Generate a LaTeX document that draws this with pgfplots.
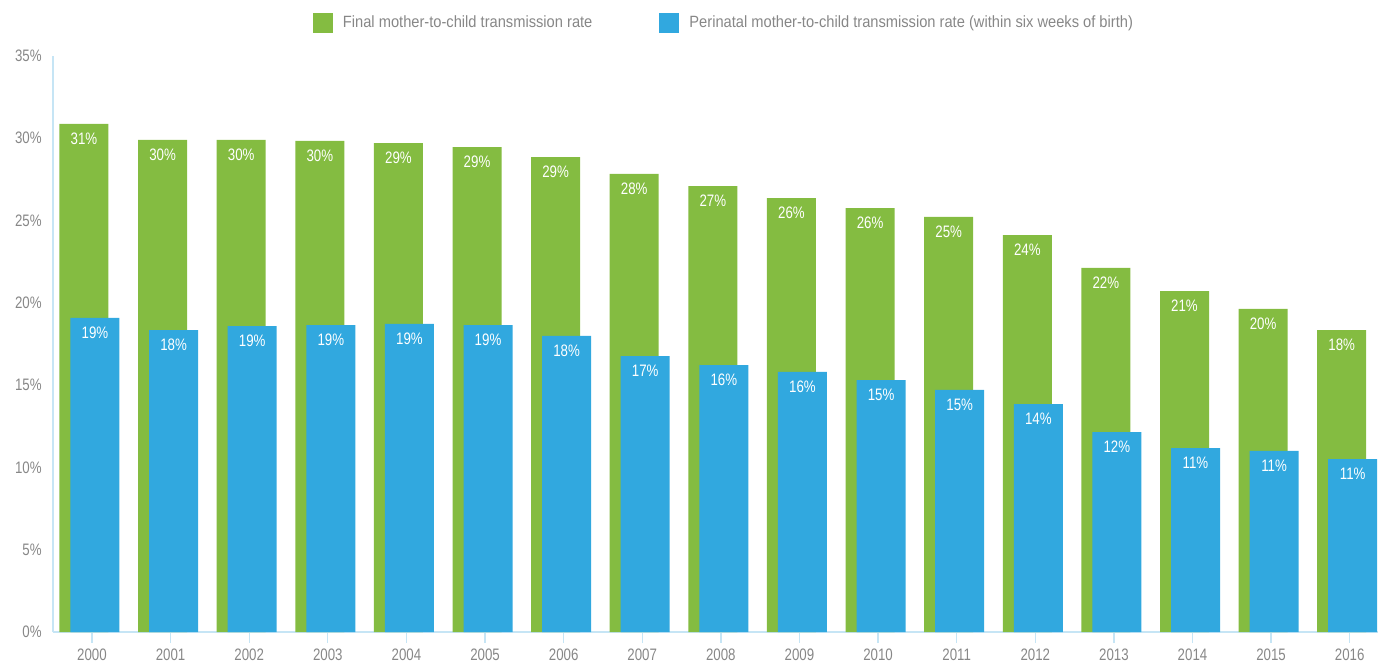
\documentclass[border=0pt]{standalone}
\usepackage{pgfplots}
\pgfplotsset{compat=1.18}
\usepackage{pgfplotstable}
\usepackage{fontspec}
\setmainfont{Liberation Sans}[FakeStretch=0.9]
\newfontfamily\numfont{Liberation Sans}[FakeStretch=0.8]
\definecolor{gr}{HTML}{84BC41}
\definecolor{bl}{HTML}{31A8DF}
\definecolor{axc}{HTML}{C6E5F5}
\definecolor{txt}{HTML}{878787}

\pgfplotstableread{
x y lab
0 30.87 31
1 29.90 30
2 29.90 30
3 29.84 30
4 29.71 29
5 29.47 29
6 28.86 29
7 27.83 28
8 27.10 27
9 26.37 26
10 25.76 26
11 25.22 25
12 24.12 24
13 22.12 22
14 20.72 21
15 19.63 20
16 18.35 18
}\finaldata

\pgfplotstableread{
x y lab
0 19.08 19
1 18.35 18
2 18.59 19
3 18.65 19
4 18.72 19
5 18.65 19
6 17.99 18
7 16.77 17
8 16.22 16
9 15.80 16
10 15.31 15
11 14.71 15
12 13.85 14
13 12.15 12
14 11.18 11
15 11.00 11
16 10.51 11
}\perinataldata

\begin{document}
\begin{tikzpicture}
\begin{axis}[
  width=662.5pt, height=288pt, scale only axis,
  xmin=-0.496, xmax=16.36, ymin=0, ymax=35,
  axis lines=left,
  axis line style={-, draw=axc, line width=1pt},
  xtick={0,...,16},
  xticklabels={2000,2001,2002,2003,2004,2005,2006,2007,2008,2009,2010,2011,2012,2013,2014,2015,2016},
  ytick={0,5,...,35},
  yticklabel={\pgfmathprintnumber{\tick}\%},
  /pgf/number format/assume math mode=true,
  tick label style={font=\numfont\fontsize{8.3pt}{9pt}\selectfont, text=txt},
  ytick style={draw=none},
  xtick style={draw=axc, line width=0.65pt},
  tick align=outside, major tick length=5.5pt,
  xticklabel style={anchor=north, inner sep=0pt, yshift=-3pt},
  yticklabel style={anchor=east, inner sep=0pt, xshift=0pt},
  legend columns=2,
  legend style={draw=none, fill=none, inner sep=0pt, outer sep=0pt,
    at={(0.1962,1.0573)}, anchor=west,
    font=\fontsize{8.15pt}{9.8pt}\selectfont, text=txt,
    nodes={inner sep=0pt},
    /tikz/every odd column/.append style={column sep=5pt},
    /tikz/every even column/.append style={column sep=33.5pt}},
  legend cell align=left,
  point meta=explicit symbolic,
  nodes near coords={\numfont\pgfplotspointmeta\%},
  every node near coord/.append style={anchor=north, inner sep=0pt, yshift=-4.35pt, text=white, font=\fontsize{8.3pt}{9pt}\selectfont},
]
\addplot[ybar, fill=gr, draw=none, bar width=24.5pt, bar shift=-4pt,
  every node near coord/.append style={xshift=-4pt},
  legend image code/.code={\fill[gr] (0pt,-5pt) rectangle (10pt,5pt);}]
  table[x=x, y=y, meta=lab] {\finaldata};
\addlegendentry{Final mother-to-child transmission rate}
\addplot[ybar, fill=bl, draw=none, bar width=24.5pt, bar shift=1.5pt,
  every node near coord/.append style={xshift=1.5pt},
  legend image code/.code={\fill[bl] (0pt,-5pt) rectangle (10pt,5pt);}]
  table[x=x, y=y, meta=lab] {\perinataldata};
\addlegendentry{Perinatal mother-to-child transmission rate (within six weeks of birth)}
\coordinate (SW) at (rel axis cs:0,0);
\coordinate (NE) at (rel axis cs:1,1);
\end{axis}
\pgfresetboundingbox
\path ([xshift=-26.5pt,yshift=-15pt]SW) rectangle ([yshift=28pt]NE);
\end{tikzpicture}
\end{document}
